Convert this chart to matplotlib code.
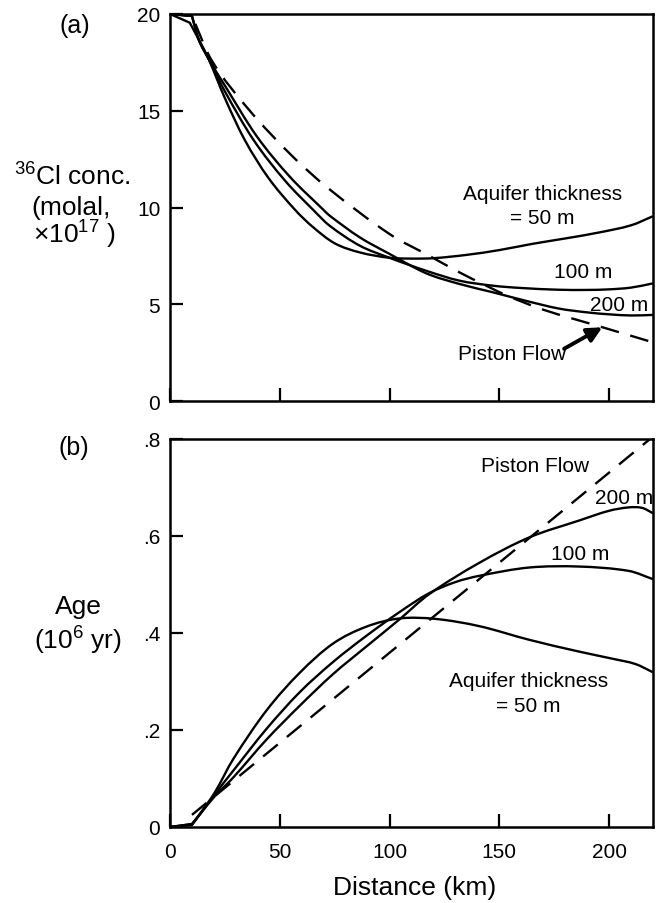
import matplotlib
matplotlib.use("Agg")
import matplotlib.pyplot as plt
from matplotlib.path import Path
from matplotlib.patches import PathPatch

plt.rcParams["font.family"] = ["Liberation Sans", "DejaVu Sans"]
plt.rcParams["mathtext.fontset"] = "custom"
plt.rcParams["mathtext.rm"] = "Liberation Sans"
plt.rcParams["mathtext.it"] = "Liberation Sans"

# ---- (a) 36Cl concentration vs distance ----
conc_piston_x = [0, 10, 19, 35.6, 55.3, 72, 100, 118, 131.8, 144, 154.5, 170, 197, 220]
conc_piston_y = [20, 19.9, 17.6, 15.1, 12.7, 11.0, 8.63, 7.51, 6.65, 5.96, 5.40, 4.72, 3.81, 3.03]

conc_50_x = [0, 9, 13, 17.5, 25, 34, 44.7, 56.8, 65, 75, 86.4, 100, 110, 120, 135, 150, 165, 180, 195, 210, 220]
conc_50_y = [20, 19.55, 18.7, 17.7, 15.65, 13.5, 11.55, 9.9, 9.0, 8.15, 7.68, 7.4, 7.36, 7.38, 7.55, 7.8, 8.12, 8.4, 8.7, 9.08, 9.55]

conc_100_x = [0, 10, 13, 17.5, 25, 38, 52.3, 65.9, 72.7, 86.4, 100, 116.7, 131.8, 147, 160, 177, 190, 200, 210, 220]
conc_100_y = [20, 19.9, 18.7, 17.7, 16.0, 13.5, 11.4, 9.8, 9.06, 8.03, 7.4, 6.73, 6.22, 5.96, 5.84, 5.75, 5.74, 5.77, 5.86, 6.08]

conc_200_x = [0, 10, 13, 17.5, 25, 39.4, 54.5, 69.7, 72.7, 86.4, 100, 116.7, 131.8, 147, 162, 177, 190, 200, 210, 220]
conc_200_y = [20, 19.9, 18.7, 17.7, 16.3, 13.7, 11.6, 9.9, 9.58, 8.46, 7.6, 6.6, 6.05, 5.62, 5.18, 4.78, 4.58, 4.48, 4.42, 4.45]

# ---- (b) groundwater age vs distance ----
age_piston_x = [10, 220]
age_piston_y = [0.025, 0.805]

age_50_x = [0, 10, 13.6, 20.5, 28.8, 43.9, 59.1, 74.2, 89.4, 104.5, 121, 141, 163.6, 186, 201.5, 212, 220]
age_50_y = [0, 0.006, 0.027, 0.072, 0.140, 0.240, 0.318, 0.378, 0.413, 0.430, 0.429, 0.414, 0.386, 0.362, 0.347, 0.336, 0.319]

age_100_x = [0, 10, 13.6, 20.5, 28.8, 43.9, 59.1, 74.2, 89.4, 104.5, 118, 130, 141, 163.6, 186.4, 209, 220]
age_100_y = [0, 0.004, 0.026, 0.068, 0.116, 0.202, 0.278, 0.340, 0.394, 0.443, 0.482, 0.505, 0.518, 0.535, 0.537, 0.528, 0.511]

age_200_x = [0, 10, 13.6, 20.5, 28.8, 43.9, 59.1, 74.2, 89.4, 104.5, 118, 141, 163.6, 186.4, 200, 209, 215, 220]
age_200_y = [0, 0.006, 0.026, 0.064, 0.102, 0.180, 0.250, 0.315, 0.372, 0.428, 0.480, 0.545, 0.597, 0.632, 0.652, 0.659, 0.658, 0.647]

conc_ticks = [0, 5, 10, 15, 20]
conc_ticklabels = ["0", "5", "10", "15", "20"]
age_ticks = [0, 0.2, 0.4, 0.6, 0.8]
age_ticklabels = ["0", ".2", ".4", ".6", ".8"]
dist_ticks = [0, 50, 100, 150, 200]
dist_ticklabels = ["0", "50", "100", "150", "200"]

W, H = 662, 904
fig = plt.figure(figsize=(W / 100, H / 100), dpi=100)


def fx(px):
    return px / W


def fy(py):
    return 1 - py / H


def smooth_curve(ax, xs, ys, **kw):
    """Straight lead-in segment, then a cubic Hermite (Bezier) path through the points."""
    n = len(xs)
    slopes = []
    for i in range(1, n):
        if i == 1:
            m = (ys[2] - ys[1]) / (xs[2] - xs[1])
        elif i == n - 1:
            m = (ys[i] - ys[i - 1]) / (xs[i] - xs[i - 1])
        else:
            m = (ys[i + 1] - ys[i - 1]) / (xs[i + 1] - xs[i - 1])
        slopes.append(m)
    verts = [(xs[0], ys[0]), (xs[1], ys[1])]
    codes = [Path.MOVETO, Path.LINETO]
    for i in range(1, n - 1):
        h = xs[i + 1] - xs[i]
        m0, m1 = slopes[i - 1], slopes[i]
        verts += [(xs[i] + h / 3, ys[i] + m0 * h / 3),
                  (xs[i + 1] - h / 3, ys[i + 1] - m1 * h / 3),
                  (xs[i + 1], ys[i + 1])]
        codes += [Path.CURVE4] * 3
    patch = PathPatch(Path(verts, codes), facecolor="none", edgecolor="k",
                      capstyle="butt", joinstyle="round", **kw)
    ax.add_patch(patch)


left, right = 170, 653
ax1 = fig.add_axes([fx(left), fy(402), fx(right) - fx(left), fy(15) - fy(402)])
ax2 = fig.add_axes([fx(left), fy(828), fx(right) - fx(left), fy(440) - fy(828)])

LW = 1.7
dash = (0, (8, 5))

for ax in (ax1, ax2):
    for sp in ax.spines.values():
        sp.set_linewidth(1.8)
    ax.set_xlim(0, 220)
    ax.set_xticks(dist_ticks)
    ax.tick_params(direction="in", length=9.5, width=1.6, labelsize=15,
                   top=False, right=False, pad=7)

# panel (a)
smooth_curve(ax1, conc_piston_x, conc_piston_y, lw=LW, linestyle=dash)
smooth_curve(ax1, conc_50_x, conc_50_y, lw=LW)
smooth_curve(ax1, conc_100_x, conc_100_y, lw=LW)
smooth_curve(ax1, conc_200_x, conc_200_y, lw=LW)
ax1.set_ylim(0, 20)
ax1.set_yticks(conc_ticks)
ax1.set_yticklabels(conc_ticklabels)
ax1.set_xticklabels([])

tk = dict(ha="center", va="center", fontsize=15)
ax1.text(169.5, 10.73, "Aquifer thickness", **tk)
ax1.text(169.5, 9.49, "= 50 m", **tk)
ax1.text(188.2, 6.68, "100 m", **tk)
ax1.text(204.5, 5.01, "200 m", **tk)
ax1.text(155.6, 2.46, "Piston Flow", **tk)
ax1.annotate("", xy=(196.9, 3.81), xytext=(179.5, 2.7),
             arrowprops=dict(arrowstyle="-|>", lw=2.8, color="k",
                             mutation_scale=22, shrinkA=0, shrinkB=0))

# panel (b)
ax2.plot(age_piston_x, age_piston_y, color="k", lw=LW, linestyle=dash)
smooth_curve(ax2, age_50_x, age_50_y, lw=LW)
smooth_curve(ax2, age_100_x, age_100_y, lw=LW)
smooth_curve(ax2, age_200_x, age_200_y, lw=LW)
ax2.set_ylim(0, 0.8)
ax2.set_yticks(age_ticks)
ax2.set_yticklabels(age_ticklabels)
ax2.set_xticklabels(dist_ticklabels)
ax2.tick_params(axis="x", pad=11)

ax2.text(166.2, 0.745, "Piston Flow", **tk)
ax2.text(206.8, 0.680, "200 m", **tk)
ax2.text(186.7, 0.563, "100 m", **tk)
ax2.text(163.2, 0.302, "Aquifer thickness", **tk)
ax2.text(163.2, 0.250, "= 50 m", **tk)

# labels outside the axes
lab = dict(ha="center", va="center", fontsize=19)
fig.text(fx(74.5), fy(26), "(a)", fontsize=18, ha="center", va="center")
fig.text(fx(74), fy(448), "(b)", fontsize=18, ha="center", va="center")
fig.text(fx(72), fy(177), r"$^{36}$Cl conc.", **lab)
fig.text(fx(71), fy(208), "(molal,", **lab)
fig.text(fx(74), fy(235), r"×10$^{17}$ )", **lab)
fig.text(fx(78), fy(607), "Age", **lab)
fig.text(fx(77.5), fy(641), r"(10$^{6}$ yr)", **lab)
fig.text(fx(415), fy(888), "Distance (km)", **lab)

fig.savefig("out.png", dpi=100)
